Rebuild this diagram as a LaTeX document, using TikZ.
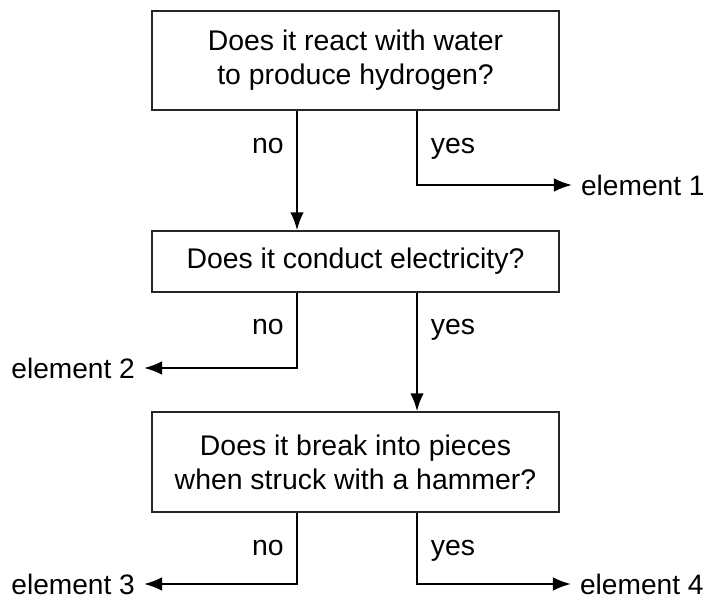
\documentclass[tikz,border=0pt]{standalone}
\usepackage{fontspec}
\setmainfont{Liberation Sans}
\newcommand\nox{297}
\newcommand\yesx{417}
\newcommand\midx{355.5}
\usepackage{tikz}
\usetikzlibrary{arrows.meta,positioning}
\tikzset{qbox/.style={rectangle,draw=black!85,line width=1pt,minimum width=10.175cm,align=center,inner sep=0pt,font=\fontsize{20.2}{24}\selectfont},
         elem/.style={inner xsep=0.22cm,inner ysep=0pt,font=\fontsize{20}{24}\selectfont},
         lab/.style={inner sep=0pt,anchor=base,font=\fontsize{20.2}{24}\selectfont},
         arr/.style={line width=1.5pt,-{Latex[length=0.45cm,width=0.34cm]}}}

\begin{document}
\begin{tikzpicture}[x=0.025cm,y=-0.025cm]
                \useasboundingbox (0,0) rectangle (706,598);
                \coordinate (nx) at (\nox,0);
                \coordinate (yx) at (\yesx,0);

                % questions
                \node[qbox, minimum height=2.475cm] (q1) at (\midx,60.5) {Does it react with water\\to produce hydrogen?};
                \node[qbox, minimum height=1.525cm] (q2) at (\midx,261.5) {Does it conduct electricity?};
                \node[qbox, minimum height=2.5cm] (q3) at (\midx,462) {Does it break into pieces\\when struck with a hammer?};

                % answers
                \node[elem, anchor=west] (e1) at (572,185) {element 1};
                \node[elem, anchor=east] (e2) at (144,368) {element 2};
                \node[elem, anchor=east] (e3) at (144,584) {element 3};
                \node[elem, anchor=west] (e4) at (571,584) {element 4};

                \node[lab] (n1) at (268,153) {no};
                \node[lab] (y1) at (453,153) {yes};
                \node[lab] (n2) at (268,334) {no};
                \node[lab] (y2) at (453,334) {yes};
                \node[lab] (n3) at (268,555) {no};
                \node[lab] (y3) at (453,555) {yes};

                \draw[arr] (q1.south -| nx) -- (q2.north -| nx);
                \draw[arr] (q1.south -| yx) |- (e1.west);
                \draw[arr] (q2.south -| nx) |- (e2.east);
                \draw[arr] (q2.south -| yx) -- (q3.north -| yx);
                \draw[arr] (q3.south -| nx) |- (e3.east);
                \draw[arr] (q3.south -| yx) |- (e4.west);
            \end{tikzpicture}
\end{document}
